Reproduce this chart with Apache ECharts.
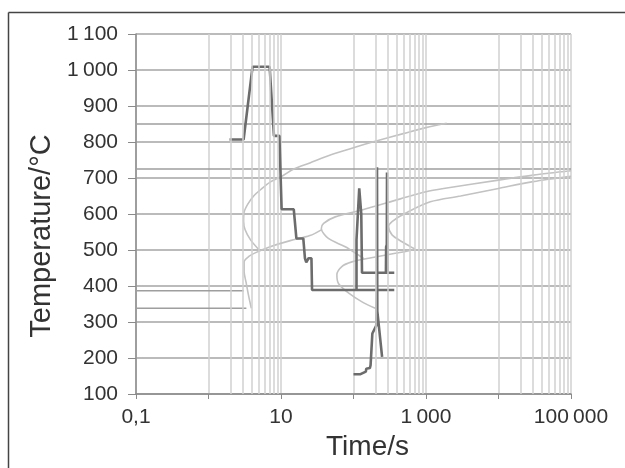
<!DOCTYPE html>
<html><head><meta charset="utf-8">
<script src="https://cdn.jsdelivr.net/npm/echarts@6/dist/echarts.min.js"></script>
<style>html,body{margin:0;padding:0;background:#fff}#c{width:625px;height:468px}</style>
</head><body><div id="c"></div>
<script>
// ---- tick labels ----
const xTickLabels = {'-1':'0,1','1':'10','3':'1\u2009000','5':'100\u2009000'};
const yMin = 100, yMax = 1100, yStep = 100;
const xMin = 0.1, xMax = 100000;
// minor vertical grid lines (s)
const minorGridX = [2,3,4,5,6,7,8,9,200,300,400,500,600,700,800,900,20000,30000,40000,50000,60000,70000,80000,90000];

// ---- critical temperature lines [time, °C] ----
const lineAc3 = [[0.1,850],[100000,850]];
const lineAc1 = [[0.1,725],[100000,725]];
const lineMs  = [[0.1,387],[3.06,387]];
const lineMf  = [[0.1,338],[3.33,338]];

// ---- CCT curves [time s, °C] ----
const curveA = [[1930,852],[1000,840],[500,824],[200,802],[100,784],[50,765],[25,742],[15,725],[10.3,705],[7,688],[5.4,670],[4.2,650],[3.5,628],[3.1,605],[3.05,580],[3.2,556],[3.8,528],[4.9,502]];
const curveB = [[3.9,338],[3.6,370],[3.3,410],[3.1,440],[3.1,467],[3.6,482],[4.4,492],[7.1,509],[13.4,526],[25,540],[36,556]];
const curveC = [[100000,720],[30000,708],[10000,694],[1750,671],[1000,662],[443,642],[131,611],[56,592],[38.7,574],[36,560],[45,532],[77,509],[117,486],[140,475]];
const curveD = [[100000,705],[30000,690],[10000,671],[3000,650],[1146,634],[518,602],[340,579],[305,565],[340,542],[467,523],[641,507],[690,504],[560,497],[378,491],[162,477],[95,467],[69,454],[59,431],[62,407],[86,380],[131,356],[200,338]];

// ---- thermal cycles [time s, °C] ----
const cycleMain = [[1.95,807],[3.05,807],[4.05,1009],[6.97,1009],[8.0,817],[9.5,817],[10.2,613],[15.0,613],[16.3,532],[20.3,532],[21.4,477],[22.3,466],[23.2,466],[24.0,477],[26.3,477],[26.8,389],[365,389]];
const cycleSpike1 = [[110,389],[110,528],[116,530],[120,671],[125,676],[128,600],[131,437],[365,437]];
const cycleSpike2 = [[100,155],[125,155],[128,160],[148,162],[150,170],[168,172],[172,180],[180,180],[182,268],[206,290],[211,400],[211,730],[213,730],[213,330],[248,203]];
const cycleSpike3 = [[280,437],[282,509],[288,515],[290,715],[292,715],[294,437]];

const FONT = 'Liberation Sans, Arial, sans-serif';
const TXT = '#333';
const fmtY = v => v >= 1000 ? Math.floor(v/1000) + '\u2009' + String(v % 1000).padStart(3,'0') : String(v);

const chart = echarts.init(document.getElementById('c'), null, {renderer:'canvas'});
const light = {color:'#c2c2c2', width:1.6};
const dark = {color:'#6c6c6c', width:2.6};
const ref = {color:'#9e9e9e', width:1.5};
function ln(name, data, style, z, smooth){
  return {name, type:'line', data, symbol:'none', smooth: smooth||false, lineStyle:style, z, silent:true, animation:false};
}
chart.setOption({
  animation:false,
  backgroundColor:'#fff',
  grid:{left:136, right:54, top:34, bottom:74},
  graphic:[
    {type:'line', shape:{x1:8.5,y1:12.5,x2:625,y2:12.5}, style:{stroke:'#444', lineWidth:1.5}},
    {type:'line', shape:{x1:8.5,y1:12.5,x2:8.5,y2:468}, style:{stroke:'#444', lineWidth:1.5}}
  ],
  xAxis:{
    type:'log', logBase:10, min:xMin, max:xMax,
    name:'Time/s', nameLocation:'middle', nameGap:37,
    nameTextStyle:{fontSize:28, color:TXT, fontFamily:FONT, padding:[0,0,0,28]},
    axisLine:{show:true, lineStyle:{color:'#8a8a8a', width:1.5}},
    axisTick:{show:true, length:5, lineStyle:{color:'#8a8a8a'}},
    axisLabel:{fontSize:21, color:TXT, fontFamily:FONT, margin:13,
      formatter: v => { const e = Math.round(Math.log10(v)); return xTickLabels[String(e)] || ''; }},
    splitLine:{show:true, lineStyle:{color:'#d0d0d0', width:1.5}},
    minorTick:{show:false}
  },
  yAxis:{
    type:'value', min:yMin, max:yMax, interval:yStep,
    name:'Temperature/°C', nameLocation:'middle', nameGap:76,
    nameTextStyle:{fontSize:29, color:TXT, fontFamily:FONT, padding:[0,44,0,0]},
    axisLine:{show:true, lineStyle:{color:'#8a8a8a', width:1.5}},
    axisTick:{show:true, inside:false, length:8, lineStyle:{color:'#8a8a8a'}},
    axisLabel:{fontSize:21, color:TXT, fontFamily:FONT, margin:18, formatter: fmtY},
    splitLine:{show:true, lineStyle:{color:'#a4a4a4', width:1.5}}
  },
  series:[
    {type:'line', data:[], symbol:'none', z:1, silent:true,
      markLine:{silent:true, symbol:'none', label:{show:false}, animation:false,
        lineStyle:{type:'solid', color:'#d0d0d0', width:1.5},
        data: minorGridX.map(v => ({xAxis:v}))}},
    ln('Ac3', lineAc3, ref, 2),
    ln('Ac1', lineAc1, ref, 2),
    ln('Ms', lineMs, ref, 2),
    ln('Mf', lineMf, ref, 2),
    ln('A', curveA, light, 3, 0.3),
    ln('B', curveB, light, 3, 0.3),
    ln('C', curveC, light, 3, 0.3),
    ln('D', curveD, light, 3, 0.3),
    ln('cycle', cycleMain, dark, 4),
    ln('spike1', cycleSpike1, dark, 4),
    ln('spike2', cycleSpike2, dark, 4),
    ln('spike3', cycleSpike3, dark, 4)
  ]
});
</script></body></html>
